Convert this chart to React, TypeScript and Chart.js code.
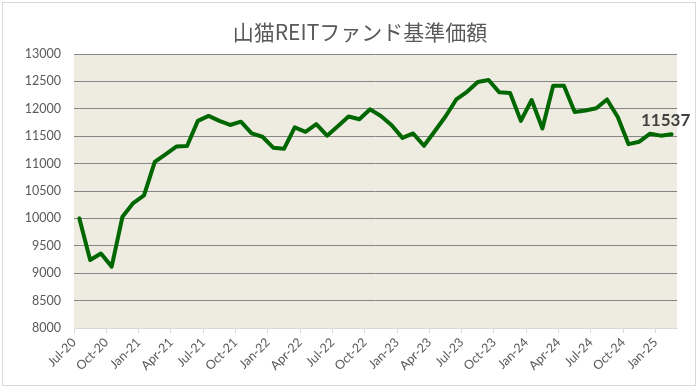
import React, { useEffect, useRef } from "react";
import { Chart, registerables } from "chart.js";

Chart.register(...registerables);

const chartTitle = "山猫REITファンド基準価額";

const months = [
  "Jul-20", "Aug-20", "Sep-20", "Oct-20", "Nov-20", "Dec-20",
  "Jan-21", "Feb-21", "Mar-21", "Apr-21", "May-21", "Jun-21",
  "Jul-21", "Aug-21", "Sep-21", "Oct-21", "Nov-21", "Dec-21",
  "Jan-22", "Feb-22", "Mar-22", "Apr-22", "May-22", "Jun-22",
  "Jul-22", "Aug-22", "Sep-22", "Oct-22", "Nov-22", "Dec-22",
  "Jan-23", "Feb-23", "Mar-23", "Apr-23", "May-23", "Jun-23",
  "Jul-23", "Aug-23", "Sep-23", "Oct-23", "Nov-23", "Dec-23",
  "Jan-24", "Feb-24", "Mar-24", "Apr-24", "May-24", "Jun-24",
  "Jul-24", "Aug-24", "Sep-24", "Oct-24", "Nov-24", "Dec-24",
  "Jan-25", "Feb-25",
];

const navValues = [
  10000, 9240, 9360, 9120, 10030, 10280,
  10420, 11030, 11170, 11310, 11320, 11780,
  11870, 11780, 11705, 11765, 11550, 11490,
  11290, 11270, 11660, 11580, 11720, 11510,
  11680, 11860, 11810, 11990, 11870, 11700,
  11470, 11550, 11325, 11590, 11860, 12170,
  12310, 12490, 12525, 12300, 12290, 11780,
  12160, 11640, 12420, 12420, 11940, 11970,
  12010, 12170, 11850, 11355, 11400, 11545,
  11510, 11537,
];

const yMin = 8000;
const yMax = 13000;
const yStep = 500;
const xTickEvery = 3;

const bgPlugin = {
  id: "bgPlugin",
  beforeDraw(chart: any) {
    const { ctx, chartArea } = chart;
    ctx.save();
    ctx.fillStyle = "#ffffff";
    ctx.fillRect(0, 0, chart.width, chart.height);
    ctx.fillStyle = "#EEECE1";
    ctx.fillRect(chartArea.left, chartArea.top, chartArea.right - chartArea.left, chartArea.bottom - chartArea.top);
    ctx.strokeStyle = "#d9d9d9";
    ctx.lineWidth = 1;
    ctx.strokeRect(2.5, 2.5, chart.width - 5, chart.height - 4);
    ctx.restore();
  },
  afterDraw(chart: any) {
    const { ctx } = chart;
    ctx.save();
    ctx.fillStyle = "#595959";
    ctx.font = '21px "Noto Sans CJK JP"';
    ctx.textAlign = "center";
    ctx.textBaseline = "middle";
    ctx.fillText(chartTitle, 360, 32);
    const meta = chart.getDatasetMeta(0);
    const last = meta.data[meta.data.length - 1];
    ctx.fillStyle = "#404040";
    ctx.font = 'bold 17px Lato';
    ctx.textAlign = "center";
    ctx.fillText(String(navValues[navValues.length - 1]), last.x - 6, last.y - 14);
    ctx.restore();
  },
};

export default function App() {
  const ref = useRef<HTMLCanvasElement | null>(null);
  useEffect(() => {
    document.body.style.margin = "0";
    if (!ref.current) return;
    const chart = new Chart(ref.current, {
      type: "line",
      data: {
        datasets: [
          {
            data: navValues.map((v, i) => ({ x: i + 0.5, y: v })),
            borderColor: "#006600",
            borderWidth: 4,
            pointRadius: 0,
            tension: 0,
            borderJoinStyle: "round",
            borderCapStyle: "round",
            fill: false,
          },
        ],
      },
      options: {
        animation: false,
        responsive: true,
        maintainAspectRatio: false,
        layout: { padding: { top: 54, right: 21, left: 0, bottom: 0 } },
        plugins: { legend: { display: false }, tooltip: { enabled: false } },
        scales: {
          x: {
            type: "linear",
            min: 0,
            max: months.length,
            afterBuildTicks(scale: any) {
              const t = [];
              for (let v = 0; v < months.length; v += xTickEvery) t.push({ value: v });
              scale.ticks = t;
            },
            afterFit(scale: any) {
              scale.height = 59;
            },
            ticks: {
              autoSkip: false,
              maxRotation: 45,
              minRotation: 45,
              padding: 2,
              color: "#595959",
              font: { family: "Lato", size: 12.5 },
              callback: (v: any) => months[Math.round(Number(v))] ?? "",
            },
            grid: {
              drawOnChartArea: false,
              drawTicks: true,
              tickLength: 5,
              color: "#d9d9d9",
            },
            border: { display: true, color: "#d9d9d9", width: 1 },
          },
          y: {
            min: yMin,
            max: yMax,
            afterFit(scale: any) {
              scale.width = 74;
            },
            ticks: {
              stepSize: yStep,
              padding: 13,
              color: "#595959",
              font: { family: "Lato", size: 12.5 },
              callback: (v: any) => String(v),
            },
            grid: {
              drawTicks: false,
              color: (c: any) => (c.tick && c.tick.value === yMin ? "rgba(0,0,0,0)" : "#868686"),
              lineWidth: 1,
            },
            border: { display: false },
          },
        },
      },
      plugins: [bgPlugin],
    });
    return () => chart.destroy();
  }, []);
  return (
    <div style={{ position: "relative", width: 698, height: 387 }}>
      <canvas ref={ref} />
    </div>
  );
}
